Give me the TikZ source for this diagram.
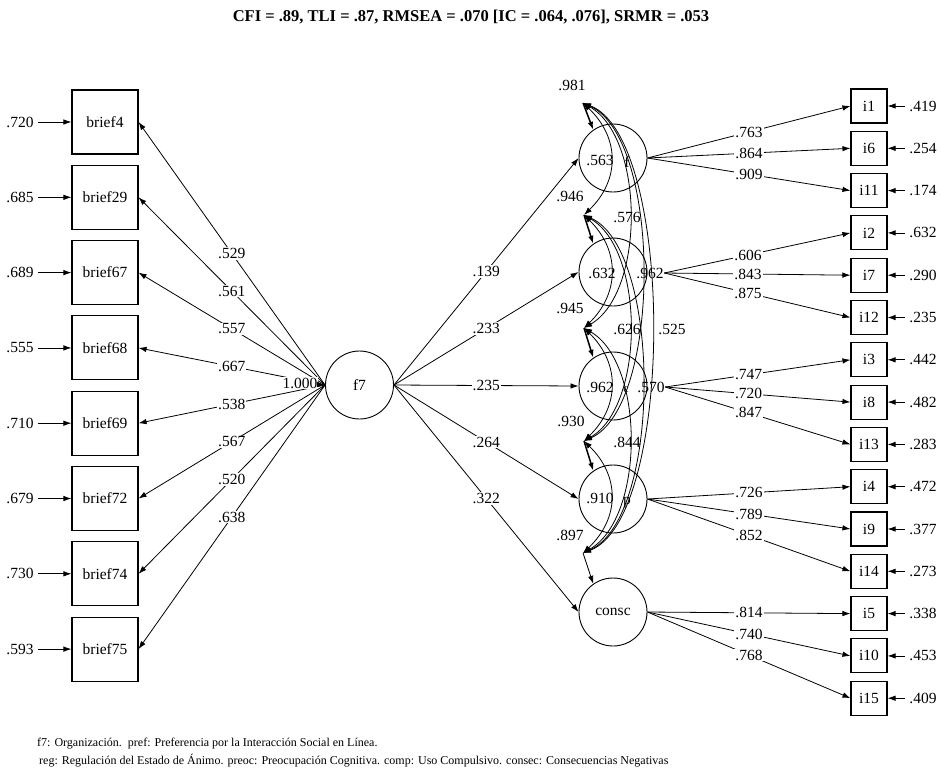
\documentclass[tikz,border=0pt]{standalone}
\usepackage{fontspec}
\setmainfont{Liberation Serif}
\usetikzlibrary{arrows.meta}
\newcommand\diaglbl{\fontsize{15.5}{17}\selectfont}
\newcommand\ftrfont{\fontsize{12}{14}\selectfont}
\newcommand\ttlfont{\fontsize{16.5}{18}\selectfont\bfseries}
\begin{document}
\begin{tikzpicture}[x=1pt,y=-1pt,
  every node/.style={font=\diaglbl},
  obs/.style={draw, line width=1.1pt, minimum width=66pt, minimum height=64pt, inner sep=0pt},
  ind/.style={draw, line width=1.1pt, minimum width=36pt, minimum height=34pt, inner sep=0pt},
  lat/.style={circle, draw, line width=0.9pt, minimum size=68pt, inner sep=0pt},
  arr/.style={-{Latex[length=8pt,width=5.5pt]}, line width=0.8pt},
  cov/.style={{Latex[length=8pt,width=5.5pt]}-{Latex[length=8pt,width=5.5pt]}, line width=0.8pt},
  stub/.style={-{Latex[length=8pt,width=5.5pt]}, line width=1.5pt},
  val/.style={fill=white, inner sep=1pt},
  txt/.style={inner sep=0.5pt},
]
\useasboundingbox (0,0) rectangle (941,774);

% fit indices
\node[font=\ttlfont] (title) at (471,17) {CFI = .89, TLI = .87, RMSEA = .070 [IC = .064, .076], SRMR = .053};

% second-order factor
\node[lat] (f7) at (359.5,385) {f7};

% BRIEF indicators of f7
\foreach \n/\e/\l [count=\k from 0] in {brief4/.720/.529, brief29/.685/.561, brief67/.689/.557, brief68/.555/.667, brief69/.710/.538, brief72/.679/.567, brief74/.730/.520, brief75/.593/.638} {
  \pgfmathsetmacro\yy{122+75.3*\k}
  \node[obs] (b\k) at (105,\yy) {\n};
  \node[txt] (eb\k) at (20,\yy) {\e};
  \draw[arr, shorten <=4pt] (eb\k) -- (b\k);
  \draw[arr] (f7.west) -- node[val]{\l} (b\k.east);
}
\node[val] (one) at (300,383) {1.000};
\draw[arr] (one) -- (f7.west);

% first-order factors
\node[lat] (fF) at (613,158) {};
\node[lat] (fR) at (613,272) {};
\node[lat] (fC) at (613,386) {};
\node[lat] (fP) at (613,499) {};
\node[lat] (fS) at (613,612) {consc};

\draw[arr] (f7.east) -- node[val]{.139} (fF.west);
\draw[arr] (f7.east) -- node[val]{.233} (fR.west);
\draw[arr] (f7.east) -- node[val]{.235} (fC.west);
\draw[arr] (f7.east) -- node[val]{.264} (fP.west);
\draw[arr] (f7.east) -- node[val]{.322} (fS.west);

% item indicators
\foreach \n/\e [count=\k from 0] in {i1/.419, i6/.254, i11/.174, i2/.632, i7/.290, i12/.235, i3/.442, i8/.482, i13/.283, i4/.472, i9/.377, i14/.273, i5/.338, i10/.453, i15/.409} {
  \pgfmathsetmacro\yy{106+42.3*\k}
  \node[ind] (\n) at (869,\yy) {\n};
  \node[txt] (e\n) at (923,\yy) {\e};
  \draw[arr, shorten <=4pt] (e\n) -- (\n);
}

% factor covariances
\coordinate (a1) at (583,103);
\coordinate (a2) at (584,215);
\coordinate (a3) at (584,328);
\coordinate (a4) at (584,441);
\coordinate (a5) at (583,553);
\draw[cov] (a1) .. controls (620,138) and (620,180) .. (a2);
\draw[cov] (a2) .. controls (620,250) and (620,293) .. (a3);
\draw[cov] (a3) .. controls (620,363) and (620,406) .. (a4);
\draw[cov] (a4) .. controls (620,476) and (620,518) .. (a5);
\draw[cov] (a1) .. controls (645,138) and (645,293) .. (a3);
\draw[cov] (a2) .. controls (645,250) and (645,406) .. (a4);
\draw[cov] (a3) .. controls (645,363) and (645,518) .. (a5);
\draw[cov] (a1) .. controls (662,138) and (662,406) .. (a4);
\draw[cov] (a2) .. controls (662,250) and (662,518) .. (a5);
\draw[cov] (a1) .. controls (675,138) and (675,518) .. (a5);
\draw[stub] (a1) -- (fF.125);
\draw[stub] (a2) -- (fR.125);
\draw[stub] (a3) -- (fC.125);
\draw[stub] (a4) -- (fP.125);
\draw[arr] (a5) -- (fS.125);

\node[txt] (c981) at (572,85) {.981};
\node[txt] (c946) at (570,196) {.946};
\node[txt] (c576) at (627,217) {.576};
\node[txt] (c945) at (570,308) {.945};
\node[txt] (c626) at (627,329) {.626};
\node[txt] (c525) at (672,329) {.525};
\node[txt] (c930) at (571,421) {.930};
\node[txt] (c844) at (627,442) {.844};
\node[txt] (c897) at (570,535) {.897};

% values printed at the factors
\node[txt] (vF) at (600,160) {.563};
\node[txt] (nF) at (627,162) {f};
\node[txt] (vR1) at (602,273) {.632};
\node[txt] (vR2) at (650,273) {.962};
\node[txt] (vC1) at (600,387) {.962};
\node[txt, font=\fontsize{12}{14}\selectfont] (nC) at (626,390) {c};
\node[txt] (vC2) at (651,387) {.570};
\node[txt] (vP) at (600,498) {.910};
\node[txt] (nP) at (627,502) {p};

% item loadings
\draw[arr] (fF.east) -- node[val]{.763} (i1.west);
\draw[arr] (fF.east) -- node[val]{.864} (i6.west);
\draw[arr] (fF.east) -- node[val]{.909} (i11.west);
\draw[arr] (vR2.east) -- node[val,pos=0.45]{.606} (i2.west);
\draw[arr] (vR2.east) -- node[val,pos=0.45]{.843} (i7.west);
\draw[arr] (vR2.east) -- node[val,pos=0.45]{.875} (i12.west);
\draw[arr] (vC2.east) -- node[val,pos=0.45]{.747} (i3.west);
\draw[arr] (vC2.east) -- node[val,pos=0.45]{.720} (i8.west);
\draw[arr] (vC2.east) -- node[val,pos=0.45]{.847} (i13.west);
\draw[arr] (fP.east) -- node[val]{.726} (i4.west);
\draw[arr] (fP.east) -- node[val]{.789} (i9.west);
\draw[arr] (fP.east) -- node[val]{.852} (i14.west);
\draw[arr] (fS.east) -- node[val]{.814} (i5.west);
\draw[arr] (fS.east) -- node[val]{.740} (i10.west);
\draw[arr] (fS.east) -- node[val]{.768} (i15.west);

% legend
\node[anchor=base west, font=\ftrfont, inner sep=0pt] (n1) at (37,746) {f7: Organización.\ \ pref: Preferencia por la Interacción Social en Línea.};
\node[anchor=base west, font=\ftrfont, inner sep=0pt] (n2) at (39,764) {reg: Regulación del Estado de Ánimo. preoc: Preocupación Cognitiva. comp: Uso Compulsivo. consec: Consecuencias Negativas};
\end{tikzpicture}
\end{document}
